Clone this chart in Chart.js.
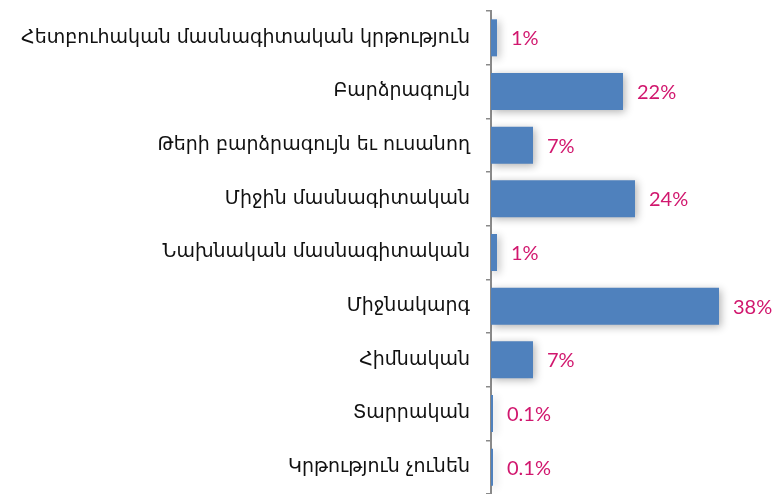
<!DOCTYPE html>
<html>
<head>
<meta charset="utf-8">
<script src="https://cdn.jsdelivr.net/npm/chart.js@4"></script>
<style>
html,body{margin:0;padding:0;background:#fff;}
#wrap{width:779px;height:494px;position:relative;}
</style>
</head>
<body>
<div id="wrap"><canvas id="c"></canvas></div>
<script>
const categories = [
  "Հետբուհական մասնագիտական կրթություն",
  "Բարձրագույն",
  "Թերի բարձրագույն եւ ուսանող",
  "Միջին մասնագիտական",
  "Նախնական մասնագիտական",
  "Միջնակարգ",
  "Հիմնական",
  "Տարրական",
  "Կրթություն չունեն"
];
const values = [1, 22, 7, 24, 1, 38, 7, 0.1, 0.1];
const valueLabels = ["1%", "22%", "7%", "24%", "1%", "38%", "7%", "0.1%", "0.1%"];

const shadowPlugin = {
  id: 'shadow',
  beforeDatasetsDraw(chart) {
    const ctx = chart.ctx;
    ctx.save();
    ctx.shadowColor = 'rgba(0,0,0,0.3)';
    ctx.shadowBlur = 8;
    ctx.shadowOffsetX = 2;
    ctx.shadowOffsetY = 2;
  },
  afterDatasetsDraw(chart) {
    chart.ctx.restore();
  }
};

const valueLabelPlugin = {
  id: 'valueLabels',
  afterDatasetsDraw(chart) {
    const ctx = chart.ctx;
    const meta = chart.getDatasetMeta(0);
    ctx.save();
    ctx.font = '20px Lato, "DejaVu Sans", sans-serif';
    ctx.fillStyle = '#d1176e';
    ctx.textAlign = 'left';
    ctx.textBaseline = 'middle';
    meta.data.forEach((bar, i) => {
      ctx.fillText(valueLabels[i], bar.x + 14, bar.y + 1);
    });
    ctx.restore();
  }
};

new Chart(document.getElementById('c'), {
  type: 'bar',
  data: {
    labels: categories,
    datasets: [{
      data: values,
      backgroundColor: '#4f81bd',
      borderWidth: 0,
      barPercentage: 0.69,
      categoryPercentage: 1,
      minBarLength: 2
    }]
  },
  options: {
    indexAxis: 'y',
    responsive: true,
    maintainAspectRatio: false,
    animation: false,
    layout: { padding: { top: 11, bottom: 0, left: 0, right: 0 } },
    plugins: { legend: { display: false }, tooltip: { enabled: false } },
    scales: {
      x: { display: false, min: 0, max: 48 },
      y: {
        afterFit(scale) { scale.width = 491; scale.paddingTop = 0; scale.paddingBottom = 0; },
        border: { display: true, color: '#8a8a8a', width: 2 },
        grid: { display: true, drawOnChartArea: false, drawTicks: true, tickLength: 5, color: '#8a8a8a', lineWidth: 1.5, offset: true },
        ticks: { color: '#111111', padding: 16, font: { family: '"DejaVu Sans", "Noto Sans", sans-serif', size: 19 } }
      }
    }
  },
  plugins: [shadowPlugin, valueLabelPlugin]
});
</script>
</body>
</html>
